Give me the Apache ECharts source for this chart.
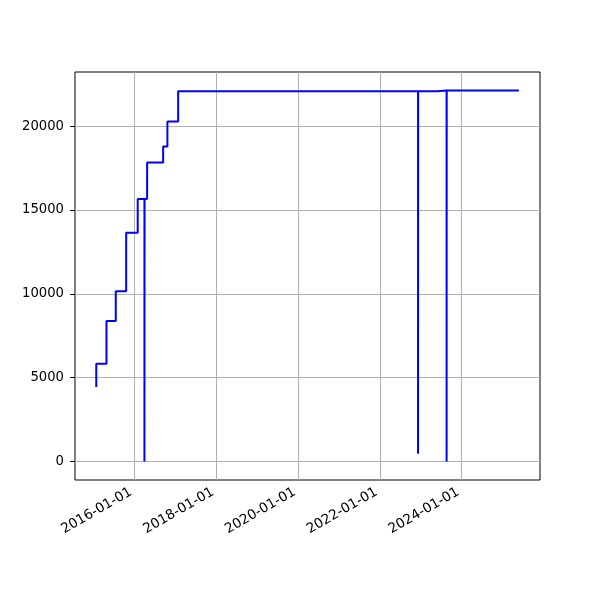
<!DOCTYPE html>
<html>
<head>
<meta charset="utf-8">
<script src="https://cdn.jsdelivr.net/npm/echarts@6/dist/echarts.min.js"></script>
<style>html,body{margin:0;padding:0;background:#fff}#c{width:600px;height:600px}</style>
</head>
<body>
<div id="c"></div>
<script>
var times = ['2015-01-25','2015-01-25','2015-04-26','2015-04-26','2015-07-18','2015-07-18',
  '2015-10-19','2015-10-19','2016-01-30','2016-01-30','2016-03-30','2016-03-30','2016-03-31',
  '2016-04-23','2016-04-23','2016-09-13','2016-09-13','2016-10-21','2016-10-21','2017-01-25',
  '2017-01-25','2022-12-07','2022-12-07','2022-12-08','2023-05-28','2023-05-28','2023-08-19',
  '2023-08-19','2023-08-20','2025-05-26'];
var values = [4440,5830,5830,8380,8380,10150,10150,13650,13650,15660,15660,0,15660,
  15660,17830,17830,18790,18790,20280,20280,22090,22090,460,22090,22090,22130,22130,
  0,22130,22130];
var xTicks = ['2016-01-01','2018-01-01','2020-01-01','2022-01-01','2024-01-01'];
var yTicks = [0,5000,10000,15000,20000];
var xRange = ['2014-07-19','2025-11-30'];
var yRange = [-1106, 23236];

function ms(s){return +new Date(s+'T00:00:00Z');}
function fmt(v){var d=new Date(v);var m=d.getUTCMonth()+1,dd=d.getUTCDate();
  return d.getUTCFullYear()+'-'+(m<10?'0':'')+m+'-'+(dd<10?'0':'')+dd;}
var data = times.map(function(t,i){return [ms(t), values[i]];});
var xTickMs = xTicks.map(ms);

var chart = echarts.init(document.getElementById('c'), null, {renderer:'canvas'});
var font = 'DejaVu Sans';
chart.setOption({
  animation:false,
  backgroundColor:'#fff',
  grid:{left:75,right:60,top:72,bottom:120,show:true,borderColor:'#000',borderWidth:1,backgroundColor:'transparent'},
  xAxis:{
    type:'value',
    min:ms(xRange[0]), max:ms(xRange[1]),
    axisLine:{show:false},
    axisTick:{show:true,inside:false,length:5,lineStyle:{color:'#000',width:1},customValues:xTickMs},
    axisLabel:{rotate:30,margin:9,fontFamily:font,fontSize:13.6,color:'#000',customValues:xTickMs,
      padding:[0,4,0,0],
      formatter:function(v){return fmt(v);}},
    splitLine:{show:false}
  },
  yAxis:{
    type:'value',
    min:yRange[0], max:yRange[1],
    axisLine:{show:false},
    axisTick:{show:true,inside:false,length:5,lineStyle:{color:'#000',width:1},customValues:yTicks},
    axisLabel:{margin:11,fontFamily:font,fontSize:13.2,color:'#000',customValues:yTicks,
      formatter:function(v){return String(v);}},
    splitLine:{show:false}
  },
  series:[{
    type:'line',
    data:data,
    showSymbol:false,
    symbol:'none',
    lineStyle:{color:'#0000ff',width:2},
    z:3,
    markLine:{
      silent:true,symbol:['none','none'],label:{show:false},animation:false,
      lineStyle:{color:'#b0b0b0',width:1,type:'solid'},
      z:1,
      data: xTickMs.map(function(v){return {xAxis:v};}).concat(yTicks.map(function(v){return {yAxis:v};}))
    }
  }]
});
</script>
</body>
</html>
